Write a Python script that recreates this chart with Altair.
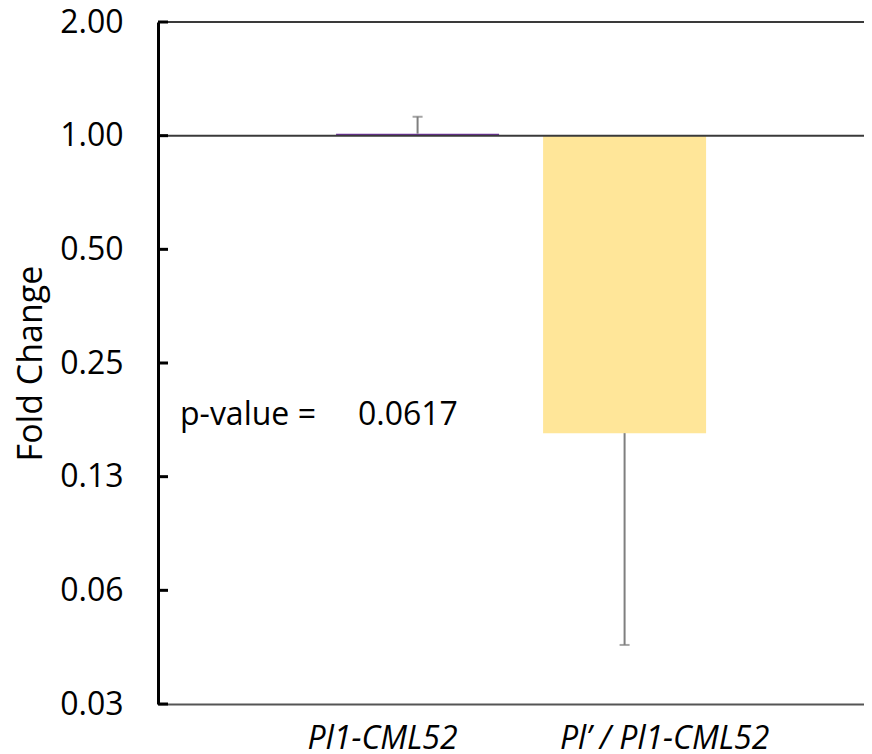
import altair as alt
import pandas as pd

categories = ["Pl1-CML52", "Pl\u2019 / Pl1-CML52"]
fold_change = [1.012, 0.163]
err_end = [1.123, 0.0448]
bar_colors = ["#7030A0", "#FFE699"]
baseline = 1.0
y_ticks = [2, 1, 0.5, 0.25, 0.125, 0.0625, 0.03125]
p_label = "p-value ="
p_value = "0.0617"

df = pd.DataFrame({
    "category": categories,
    "fold": fold_change,
    "err": err_end,
    "base": [baseline] * len(categories),
})
ticks_df = pd.DataFrame({"t": y_ticks})
lines_df = pd.DataFrame({"v": [y_ticks[0], baseline]})

FONT = "Open Sans"

x_enc = alt.X(
    "category:N",
    sort=categories,
    scale=alt.Scale(paddingInner=0.2126, paddingOuter=0.8116, align=0.53),
    axis=alt.Axis(
        title=None,
        labelAngle=0,
        labelFont=FONT,
        labelFontSize=32,
        labelFontStyle="italic",
        labelColor="#000000",
        labelPadding=19,
        labelLimit=0,
        labelOffset={"condition": {"test": "datum.value === 'Pl1-CML52'", "value": -35}, "value": 40},
        ticks=False,
        tickSize=0,
        domainColor="#555555",
        domainWidth=2,
    ),
)

y_scale = alt.Scale(type="log", base=2, domain=[0.03125, 2], nice=False)
y_axis = alt.Axis(
    title="Fold Change",
    values=y_ticks,
    format=".2f",
    labelFont=FONT,
    labelFontSize=32,
    labelColor="#000000",
    labelPadding=35,
    tickSize=0,
    ticks=False,
    grid=False,
    domainColor="#000000",
    domainWidth=3,
    titleFont=FONT,
    titleFontSize=34,
    titleFontWeight="normal",
    titleColor="#000000",
    titlePadding=11,
)

bars = alt.Chart(df).mark_bar().encode(
    x=x_enc,
    y=alt.Y("fold:Q", scale=y_scale, axis=y_axis),
    y2="base:Q",
    color=alt.Color("category:N", scale=alt.Scale(domain=categories, range=bar_colors), legend=None),
)

err_rule = alt.Chart(df).mark_rule(color="#7F7F7F", strokeWidth=2).encode(
    x=alt.X("category:N", sort=categories),
    y=alt.Y("fold:Q"),
    y2="err:Q",
)
err_cap = alt.Chart(df).mark_tick(color="#7F7F7F", size=10, thickness=2).encode(
    x=alt.X("category:N", sort=categories),
    y=alt.Y("err:Q"),
)

hlines = alt.Chart(lines_df).mark_rule(color="#3A3A3A", strokeWidth=2).encode(
    y=alt.Y("v:Q"),
)

inner_ticks = alt.Chart(ticks_df).mark_rule(color="#000000", strokeWidth=3).encode(
    y=alt.Y("t:Q"),
    x=alt.value(0),
    x2=alt.value(10),
)

ptext = alt.Chart(pd.DataFrame({"t": [p_label]})).mark_text(
    font=FONT, fontSize=32, align="left", baseline="middle", color="#000000"
).encode(text="t:N", x=alt.value(22), y=alt.value(393))

pval = alt.Chart(pd.DataFrame({"t": [p_value]})).mark_text(
    font=FONT, fontSize=32, align="left", baseline="middle", color="#000000"
).encode(text="t:N", x=alt.value(200), y=alt.value(393))

chart = alt.layer(bars, err_rule, err_cap, hlines, inner_ticks, ptext, pval).properties(
    width=706,
    height=682,
    autosize=alt.AutoSizeParams(type="none"),
    padding={"left": 150, "top": 14, "right": 0, "bottom": 54},
).configure_view(stroke=None)

chart.save("out.html", embed_options={"renderer": "svg", "actions": False})
